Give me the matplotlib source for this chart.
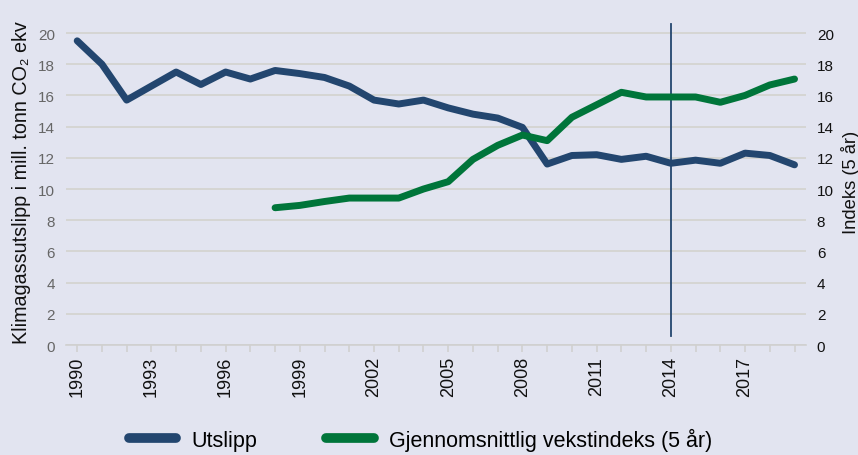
import matplotlib.pyplot as plt
from matplotlib.lines import Line2D

plt.rcParams['font.family'] = ['Liberation Sans', 'DejaVu Sans']

# Data (lest av fra figuren)
years = list(range(1990, 2020))
utslipp = [19.5, 18.0, 15.7, 16.6, 17.5, 16.7, 17.5, 17.05, 17.6, 17.4,
           17.15, 16.6, 15.7, 15.45, 15.7, 15.2, 14.8, 14.55, 13.95, 11.6,
           12.15, 12.2, 11.9, 12.1, 11.65, 11.85, 11.65, 12.3, 12.15, 11.55]
index_years = list(range(1998, 2020))
vekstindeks = [8.8, 8.95, 9.2, 9.42, 9.42, 9.42, 10.0, 10.47, 11.9, 12.8,
               13.46, 13.1, 14.6, 15.4, 16.2, 15.9, 15.9, 15.9, 15.56, 16.0,
               16.67, 17.05]
label_years = list(range(1990, 2020, 3))
marker_year = 2014

bg = '#E2E4F0'
blue = '#23466F'
green = '#00753A'
grid = '#D3D2CE'

fig = plt.figure(figsize=(8.58, 4.56), dpi=100, facecolor=bg)
ax = fig.add_axes([0.077, 0.2412, 0.862, 0.7184], facecolor=bg)
ax2 = ax.twinx()

ax.set_ylim(0, 21)
ax2.set_ylim(0, 21)
ax.set_xlim(1990 - 0.45, 2019 + 0.45)
ax.set_yticks(range(0, 21, 2))
ax2.set_yticks(range(0, 21, 2))
ax.yaxis.grid(True, color=grid, linewidth=1.2)
ax.set_axisbelow(True)

ax.plot(years, utslipp, color=blue, linewidth=5, solid_capstyle='round',
        solid_joinstyle='round', zorder=3)
ax2.plot(index_years, vekstindeks, color=green, linewidth=5,
         solid_capstyle='round', solid_joinstyle='round', zorder=3)
ax2.plot([marker_year, marker_year], [0.6, 20.6], color=blue, linewidth=1.3)

for a in (ax, ax2):
    for s in a.spines.values():
        s.set_visible(False)
ax.spines['bottom'].set_visible(True)
ax.spines['bottom'].set_color('#D0D0D0')
ax.spines['bottom'].set_linewidth(1.2)

ax.set_xticks(years, minor=True)
ax.set_xticks(label_years)
ax.set_xticklabels([str(y) for y in label_years], rotation=90, fontsize=13,
                   color='#111111')
ax.tick_params(axis='x', which='both', length=5, color='#D0D0D0', width=1.2,
               pad=3)
ax.tick_params(axis='y', length=0, labelsize=11, labelcolor='#666666', pad=8)
ax2.tick_params(axis='y', length=0, labelsize=11, labelcolor='#111111', pad=8)

ax.set_ylabel('Klimagassutslipp i mill. tonn CO\u2082 ekv', fontsize=14.2,
              color='#111111', labelpad=5)
ax2.set_ylabel('Indeks (5 år)', fontsize=13.2, color='#111111', labelpad=5)

handles = [Line2D([], [], color=blue, linewidth=7, solid_capstyle='round'),
           Line2D([], [], color=green, linewidth=7, solid_capstyle='round')]
fig.legend(handles, ['Utslipp', 'Gjennomsnittlig vekstindeks (5 år)'],
           loc='center', bbox_to_anchor=(0.49, 0.035), ncol=2, frameon=False,
           handlelength=2.2, columnspacing=3.2, handletextpad=0.7,
           prop={'size': 15.5})

fig.savefig('out.png', dpi=100, facecolor=bg)
